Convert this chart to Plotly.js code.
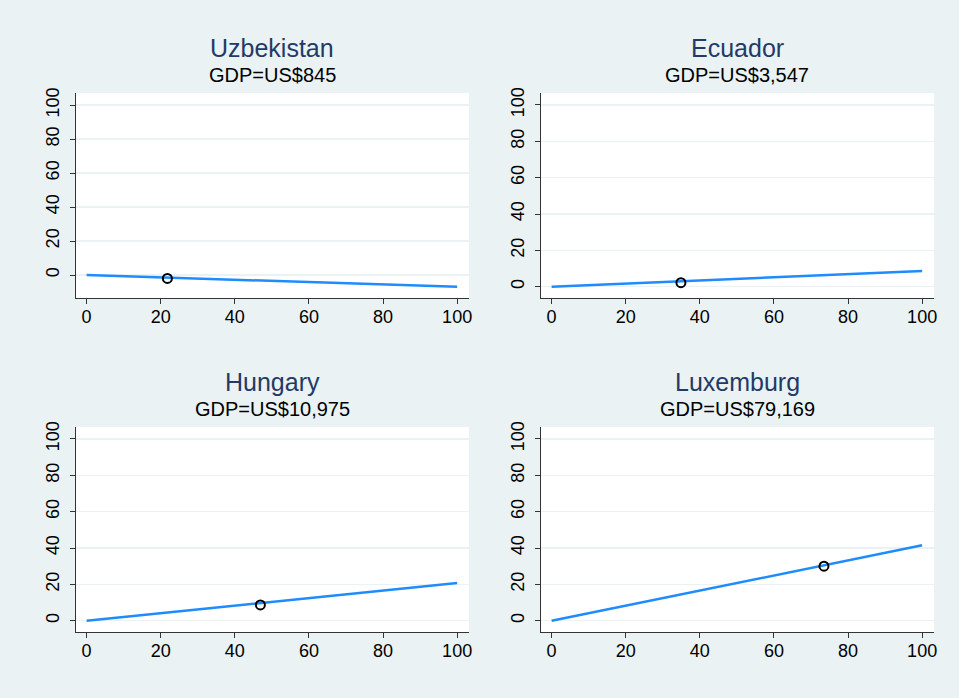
<!DOCTYPE html>
<html>
<head>
<meta charset="utf-8">
<script src="https://cdn.plot.ly/plotly-3.0.1.min.js"></script>
<style>html,body{margin:0;padding:0;background:#EAF2F3;}#chart{width:959px;height:698px;}</style>
</head>
<body>
<div id="chart"></div>
<script>
// Data
const countries = ["Uzbekistan", "Ecuador", "Hungary", "Luxemburg"];
const gdpLabels = ["GDP=US$845", "GDP=US$3,547", "GDP=US$10,975", "GDP=US$79,169"];
const lineX = [0, 100];
const lineYUzbekistan = [0, -6.9];
const lineYEcuador = [0, 8.6];
const lineYHungary = [0, 20.8];
const lineYLuxemburg = [0, 41.5];
const pointX = [21.8, 34.9, 46.9, 73.5];
const pointY = [-2.0, 2.2, 8.7, 30.0];
const tickVals = [0, 20, 40, 60, 80, 100];
const yRanges = [[-13.5, 107.1], [-6.2, 106.6], [-6.2, 106.6], [-6.2, 106.6]];

const lineYs = [lineYUzbekistan, lineYEcuador, lineYHungary, lineYLuxemburg];

const W = 959, H = 698;
const xDomains = [[75.5 / W, 469 / W], [540.5 / W, 934 / W], [75.5 / W, 469 / W], [540.5 / W, 934 / W]];
const yDomains = [[1 - 298 / H, 1 - 93 / H], [1 - 298 / H, 1 - 93 / H], [1 - 632 / H, 1 - 427 / H], [1 - 632 / H, 1 - 427 / H]];

const FONT = "Liberation Sans, Arial, sans-serif";
const data = [];
const layout = {
  width: W, height: H,
  margin: {l: 0, r: 0, t: 0, b: 0},
  paper_bgcolor: "#EAF2F3",
  plot_bgcolor: "#FFFFFF",
  showlegend: false,
  font: {family: FONT, color: "#000000"},
  annotations: []
};

for (let i = 0; i < 4; i++) {
  const sfx = i === 0 ? "" : String(i + 1);
  const xa = "x" + sfx, ya = "y" + sfx;
  data.push({
    x: lineX, y: lineYs[i], xaxis: xa, yaxis: ya,
    mode: "lines", type: "scatter",
    line: {color: "#1E8CFF", width: 2.5}, hoverinfo: "skip"
  });
  data.push({
    x: [pointX[i]], y: [pointY[i]], xaxis: xa, yaxis: ya,
    mode: "markers", type: "scatter",
    marker: {symbol: "circle-open", size: 9, color: "#000000", line: {width: 2, color: "#000000"}}
  });
  layout["xaxis" + sfx] = {
    domain: xDomains[i], anchor: ya, range: [-3, 103.2],
    tickvals: tickVals, ticks: "outside", ticklen: 5, tickwidth: 1, tickcolor: "#333333",
    ticklabelstandoff: -3,
    showline: true, linecolor: "#333333", linewidth: 1,
    showgrid: false, zeroline: false,
    tickfont: {size: 18, family: FONT, color: "#000000"}
  };
  layout["yaxis" + sfx] = {
    domain: yDomains[i], anchor: xa, range: yRanges[i],
    tickvals: tickVals, ticks: "outside", ticklen: 5, tickwidth: 1, tickcolor: "#333333",
    ticklabelstandoff: 3,
    showline: true, linecolor: "#333333", linewidth: 1,
    showgrid: true, gridcolor: "#EAF2F3", gridwidth: 1.5, zeroline: false,
    tickangle: -90,
    tickfont: {size: 18, family: FONT, color: "#000000"}
  };
  const cx = (xDomains[i][0] + xDomains[i][1]) / 2;
  const top = yDomains[i][1];
  layout.annotations.push({
    xref: "paper", yref: "paper", x: cx, y: top + 45 / H,
    text: countries[i], showarrow: false, xanchor: "center", yanchor: "middle",
    font: {size: 25, family: FONT, color: "#243A66"}
  });
  layout.annotations.push({
    xref: "paper", yref: "paper", x: cx, y: top + 18 / H,
    text: gdpLabels[i], showarrow: false, xanchor: "center", yanchor: "middle",
    font: {size: 20, family: FONT, color: "#000000"}
  });
}

Plotly.newPlot("chart", data, layout, {displayModeBar: false, staticPlot: true});
</script>
</body>
</html>
